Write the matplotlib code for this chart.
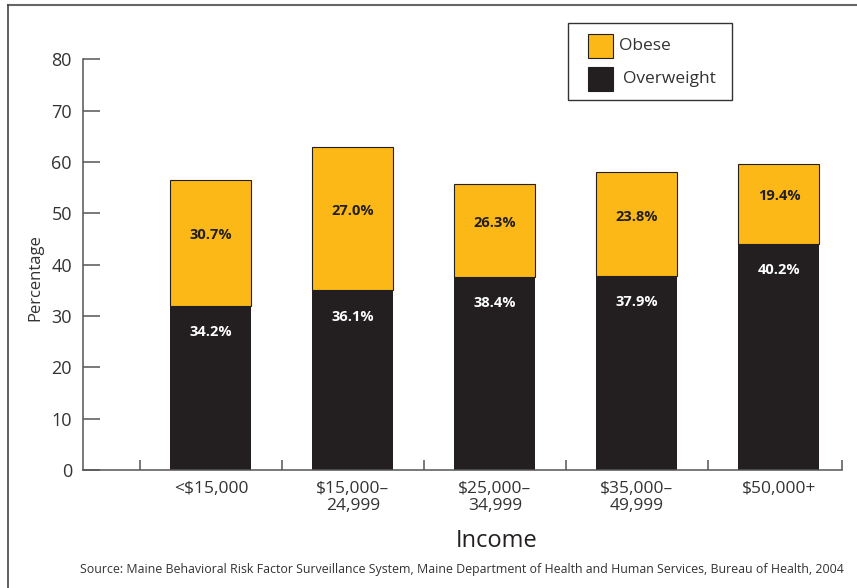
import matplotlib
matplotlib.use("Agg")
import matplotlib.pyplot as plt
from matplotlib.patches import Rectangle
from matplotlib.lines import Line2D

plt.rcParams['font.family'] = ['Open Sans', 'DejaVu Sans']

# ------------------------------ Data ------------------------------
categories = ['<$15,000', '$15,000–\n24,999', '$25,000–\n34,999',
              '$35,000–\n49,999', '$50,000+']
# bar heights as drawn in the original chart
overweight = [32.0, 35.0, 37.7, 37.75, 44.05]
obese = [24.5, 27.9, 18.0, 20.25, 15.65]
# printed labels
overweight_labels = ['34.2%', '36.1%', '38.4%', '37.9%', '40.2%']
obese_labels = ['30.7%', '27.0%', '26.3%', '23.8%', '19.4%']
series_names = ['Obese', 'Overweight']

ORANGE = '#FBB817'
DARK = '#231F20'
TXT = '#333333'

# ------------------------------ Figure ------------------------------
W, H = 857, 588
fig = plt.figure(figsize=(W / 100, H / 100), dpi=100)
ax = fig.add_axes([83 / W, 1 - 470 / H, (842 - 83) / W, (470 - 59.5) / H])

x = list(range(len(categories)))
ax.bar(x, overweight, width=0.57, color=DARK, edgecolor='none', zorder=2)
ax.bar(x, obese, width=0.57, bottom=overweight, color=ORANGE,
       edgecolor=DARK, linewidth=0.8, zorder=2)

for i in x:
    ax.text(i, overweight[i] - 5.1, overweight_labels[i], ha='center', va='center',
            color='white', fontsize=10.5, fontweight='bold', zorder=3)
    ax.text(i, overweight[i] + obese[i] / 2 + 1.5, obese_labels[i], ha='center',
            va='center', color=DARK, fontsize=10.5, fontweight='bold', zorder=3)

ax.set_xlim(-0.901, 4.444)
ax.set_ylim(0, 80)
ax.set_yticks(range(0, 81, 10))
ax.set_xticks(x)
ax.set_xticklabels(categories, fontsize=12.5, color=TXT, linespacing=1.1)
ax.set_xticks([-0.5, 0.5, 1.5, 2.5, 3.5, 4.444], minor=True)

ax.tick_params(axis='y', direction='in', length=12, width=1.1, color='#555555',
               labelsize=13, labelcolor=TXT, pad=8)
ax.tick_params(axis='x', which='major', length=0, pad=8)
ax.tick_params(axis='x', which='minor', direction='in', length=7.2, width=1.1,
               color='#555555')

for side in ['top', 'right']:
    ax.spines[side].set_visible(False)
for side in ['left', 'bottom']:
    ax.spines[side].set_color('#555555')
    ax.spines[side].set_linewidth(1.1)

# legend, drawn by hand in pixel positions
def px(xp, yp):
    return xp / W, 1 - yp / H

fig.add_artist(Rectangle(px(568, 100), 164 / W, 77.3 / H, transform=fig.transFigure,
                         facecolor='white', edgecolor='#333333', linewidth=1.0))
for (y0, color, name, tx) in [(58, ORANGE, series_names[0], 619),
                              (91, DARK, series_names[1], 623)]:
    fig.add_artist(Rectangle(px(588, y0), 25 / W, 24.5 / H, transform=fig.transFigure,
                             facecolor=color, edgecolor=DARK, linewidth=0.8))
    fig.text(*px(tx, y0 - 12.5), name, ha='left', va='center', fontsize=12.5,
             color=TXT)

# labels
fig.text(35 / W, 1 - 278 / H, 'Percentage', rotation=90, ha='center', va='center',
         fontsize=12, color=TXT)
fig.text(497 / W, 1 - 541 / H, 'Income', ha='center', va='center',
         fontsize=17, color=DARK)
fig.text(80 / W, 1 - 569 / H,
         'Source: Maine Behavioral Risk Factor Surveillance System, Maine Department '
         'of Health and Human Services, Bureau of Health, 2004',
         ha='left', va='center', fontsize=8.9, color=TXT)

# outer frame (top and left only)
fig.add_artist(Line2D([8 / W, 1], [1 - 5 / H, 1 - 5 / H], transform=fig.transFigure,
                      color='#666666', linewidth=1.5))
fig.add_artist(Line2D([8 / W, 8 / W], [0, 1 - 5 / H], transform=fig.transFigure,
                      color='#444444', linewidth=1.2))

fig.savefig('out.png', dpi=100)
